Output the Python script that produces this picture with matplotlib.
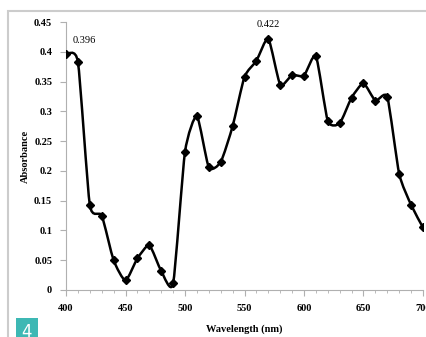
import matplotlib
matplotlib.use('Agg')
import matplotlib.pyplot as plt
import numpy as np
from matplotlib.path import Path
from matplotlib.patches import PathPatch, Rectangle

wavelength = [400, 410, 420, 430, 440, 450, 460, 470, 480, 490,
              500, 510, 520, 530, 540, 550, 560, 570, 580, 590,
              600, 610, 620, 630, 640, 650, 660, 670, 680, 690, 700]
absorbance = [0.396, 0.383, 0.143, 0.125, 0.050, 0.016, 0.053, 0.075, 0.032, 0.011,
              0.232, 0.292, 0.206, 0.215, 0.275, 0.358, 0.385, 0.422, 0.345, 0.361,
              0.360, 0.393, 0.284, 0.280, 0.323, 0.347, 0.318, 0.324, 0.195, 0.143, 0.105]
xticks = [400, 450, 500, 550, 600, 650, 700]
yticks = [0, 0.05, 0.1, 0.15, 0.2, 0.25, 0.3, 0.35, 0.4, 0.45]
ytick_labels = ['0', '0.05', '0.1', '0.15', '0.2', '0.25', '0.3', '0.35', '0.4', '0.45']
peak_labels = [(400, 0.396, '0.396'), (570, 0.422, '0.422')]

plt.rcParams['font.family'] = ['Liberation Serif', 'DejaVu Serif']


# smoothed line through the points (bezier, low tension so it doesn't overshoot much)
def smooth_path(x, y, k=10.0):
    p = np.column_stack([x, y])
    n = len(p)
    verts = [p[0]]
    codes = [Path.MOVETO]
    for i in range(n - 1):
        p0 = p[max(i - 1, 0)]
        p1 = p[i]
        p2 = p[i + 1]
        p3 = p[min(i + 2, n - 1)]
        c1 = p1 + (p2 - p0) / k
        c2 = p2 - (p3 - p1) / k
        verts += [c1, c2, p2]
        codes += [Path.CURVE4] * 3
    return Path(verts, codes)


fig = plt.figure(figsize=(4.27, 3.37), dpi=100)
ax = fig.add_axes([0.1546, 0.1395, 0.836, 0.795])

ax.add_patch(PathPatch(smooth_path(wavelength, absorbance), fill=False,
                       edgecolor='black', linewidth=1.8, zorder=3))
ax.plot(wavelength, absorbance, linestyle='none', marker='D', markersize=3.8,
        color='black', zorder=4)

for x, y, t in peak_labels:
    ax.annotate(t, (x, y), xytext=(5 if x == 400 else 0, 7), textcoords='offset points',
                ha='left' if x == 400 else 'center', va='bottom', fontsize=7.5)

ax.set_xlim(400, 700)
ax.set_ylim(0, 0.45)
ax.set_xticks(xticks)
ax.set_xticks(np.arange(400, 701, 10), minor=True)
ax.set_yticks(yticks)
ax.set_yticklabels(ytick_labels)
for s in ['top', 'right']:
    ax.spines[s].set_visible(False)
for s in ['left', 'bottom']:
    ax.spines[s].set_color('#b0b0b0')
    ax.spines[s].set_linewidth(0.8)
ax.tick_params(axis='both', which='both', colors='#b0b0b0', labelcolor='black',
               labelsize=7.5, direction='out')
ax.tick_params(axis='both', which='major', length=4, pad=6)
ax.tick_params(axis='x', which='minor', length=2.5)
for lab in ax.get_xticklabels() + ax.get_yticklabels():
    lab.set_fontweight('bold')

ax.set_xlabel('Wavelength (nm)', fontsize=7.5, fontweight='bold')
ax.set_ylabel('Absorbance', fontsize=7.5, fontweight='bold')
ax.xaxis.set_label_coords(0.5, -0.13)
ax.yaxis.set_label_coords(-0.1, 0.5)

# frame around the figure
fig.patches.append(Rectangle((8 / 427, -0.1), 1.2, 1 - 11 / 337 + 0.1,
                             transform=fig.transFigure, fill=False,
                             edgecolor='#cccccc', linewidth=1.5))
# teal number badge
fig.patches.append(Rectangle((16 / 427, -0.02), 22 / 427, 19 / 337 + 0.02,
                             transform=fig.transFigure, facecolor='#3db8b4',
                             edgecolor='none'))
fig.text(27 / 427, 5 / 337, '4', color='white', fontsize=12, ha='center',
         va='center', family='DejaVu Sans')

fig.savefig('out.png', dpi=100)
